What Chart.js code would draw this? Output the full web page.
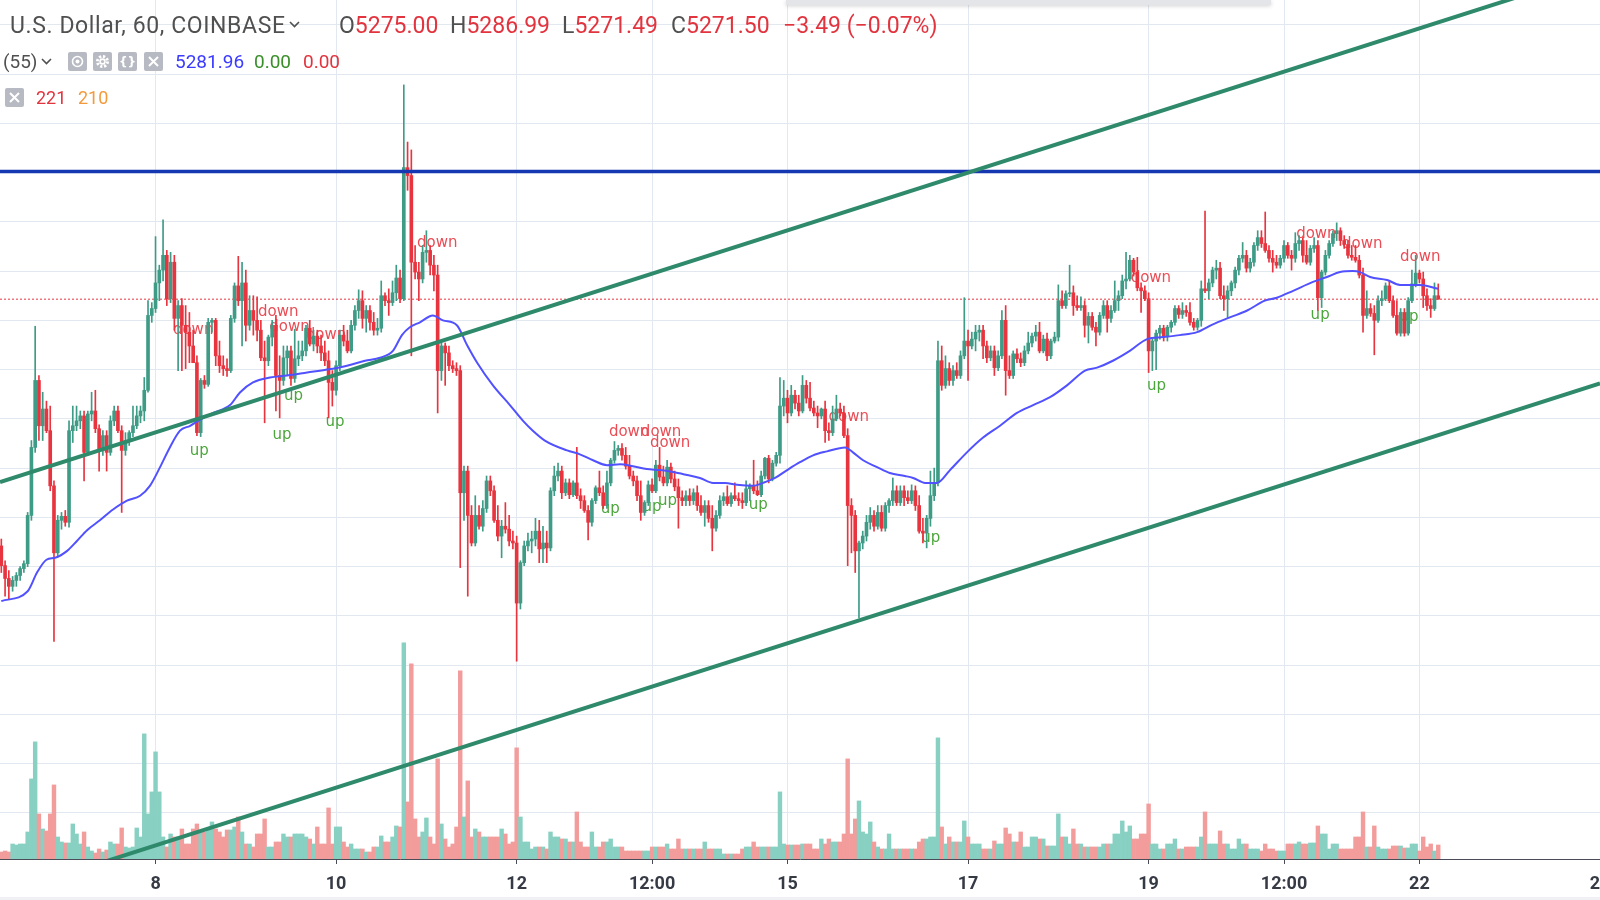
<!DOCTYPE html>
<html>
<head>
<meta charset="utf-8">
<title>U.S. Dollar, 60, COINBASE</title>
<script src="https://cdn.jsdelivr.net/npm/chart.js@4.4.1/dist/chart.umd.min.js"></script>
<style>
  html, body { margin: 0; padding: 0; background: #fff; }
  #wrap { position: relative; width: 1600px; height: 900px; overflow: hidden; }
  #chart { position: absolute; left: 0; top: 0; }
  .t { position: absolute; white-space: nowrap; line-height: 1; font-family: Roboto, "Liberation Sans", sans-serif; }
  .r1 { font-size: 23px; top: 14px; color: #505050; }
  .r2 { font-size: 19px; top: 52px; color: #505050; }
  .r3 { font-size: 18px; top: 89px; }
  .red { color: #e2343e; }
  .btn { position: absolute; width: 19px; height: 19px; background: #b7bac3; border-radius: 2px; }
  .ic { position: absolute; }
</style>
</head>
<body>
<div id="wrap">
  <canvas id="chart" width="1600" height="900"></canvas>

  <div class="t r1" style="left:10px;letter-spacing:0.6px">U.S. Dollar, 60, COINBASE</div>
  <svg class="ic" style="left:289px;top:21px" width="11" height="7"><polyline points="1,1 5.5,5.5 10,1" fill="none" stroke="#505050" stroke-width="1.6"/></svg>
  <div class="t r1" style="left:339px">O<span class="red">5275.00</span></div>
  <div class="t r1" style="left:450px">H<span class="red">5286.99</span></div>
  <div class="t r1" style="left:562px">L<span class="red">5271.49</span></div>
  <div class="t r1" style="left:671px">C<span class="red">5271.50</span></div>
  <div class="t r1 red" style="left:783px">−3.49 (−0.07%)</div>

  <div class="t r2" style="left:3px">(55)</div>
  <svg class="ic" style="left:41px;top:58px" width="11" height="7"><polyline points="1,1 5.5,5.5 10,1" fill="none" stroke="#505050" stroke-width="1.6"/></svg>
  <div class="btn" style="left:68px;top:52px"><svg width="19" height="19"><circle cx="9.5" cy="9.5" r="5" fill="none" stroke="#fff" stroke-width="1.6"/><circle cx="9.5" cy="9.5" r="2" fill="#fff"/></svg></div>
  <div class="btn" style="left:93px;top:52px"><svg width="19" height="19"><circle cx="9.5" cy="9.5" r="5" fill="none" stroke="#fff" stroke-width="3" stroke-dasharray="2.2 1.7"/><circle cx="9.5" cy="9.5" r="3.2" fill="#fff"/><circle cx="9.5" cy="9.5" r="1.6" fill="#b7bac3"/></svg></div>
  <div class="btn" style="left:118px;top:52px"><svg width="19" height="19"><text x="9.5" y="14" text-anchor="middle" font-family="DejaVu Sans" font-weight="bold" font-size="12" fill="#fff">{}</text></svg></div>
  <div class="btn" style="left:144px;top:52px"><svg width="19" height="19"><path d="M5 5 L14 14 M14 5 L5 14" stroke="#fff" stroke-width="2"/></svg></div>
  <div class="t r2" style="left:175px;color:#3b3bff">5281.96</div>
  <div class="t r2" style="left:254px;color:#3a8f2a">0.00</div>
  <div class="t r2 red" style="left:303px">0.00</div>

  <div class="btn" style="left:5px;top:88px"><svg width="19" height="19"><path d="M5 5 L14 14 M14 5 L5 14" stroke="#fff" stroke-width="2"/></svg></div>
  <div class="t r3 red" style="left:36px">221</div>
  <div class="t r3" style="left:78px;color:#f39a3d">210</div>

  <div style="position:absolute;left:786px;top:0;width:485px;height:5px;background:#e4e5e8;box-shadow:0 1px 4px rgba(0,0,0,0.18)"></div>
  <div style="position:absolute;left:0;top:897px;width:1600px;height:3px;background:#f0f1f4"></div>
</div>

<script>
// hourly candles, hour 0 = 8 Apr 00:00, first candle 6 Apr 07:00
const firstHour = -41;

const open = [
  5021, 5001, 4988, 4980, 4986, 4991, 4998, 5003, 5052, 5121,
  5189, 5143, 5160, 5138, 5082, 5014, 5047, 5051, 5045, 5138,
  5143, 5148, 5153, 5116, 5155, 5158, 5140, 5118, 5133, 5116,
  5148, 5158, 5138, 5118, 5128, 5136, 5143, 5153, 5158, 5179,
  5255, 5262, 5288, 5301, 5316, 5272, 5309, 5252, 5265, 5245,
  5238, 5224, 5207, 5136, 5189, 5185, 5248, 5250, 5214, 5204,
  5201, 5199, 5252, 5285, 5270, 5288, 5245, 5260, 5250, 5240,
  5212, 5209, 5233, 5245, 5194, 5189, 5212, 5219, 5191, 5211,
  5214, 5219, 5242, 5226, 5234, 5224, 5217, 5209, 5187, 5179,
  5204, 5235, 5229, 5219, 5245, 5260, 5270, 5252, 5260, 5248,
  5240, 5242, 5275, 5270, 5268, 5278, 5293, 5272, 5405, 5397,
  5309, 5299, 5292, 5319, 5321, 5306, 5296, 5199, 5224, 5217,
  5204, 5201, 5199, 5075, 5097, 5052, 5024, 5052, 5041, 5059,
  5087, 5077, 5047, 5031, 5041, 5038, 5026, 5024, 4963, 5004,
  5021, 5026, 5028, 5036, 5018, 5024, 5019, 5077, 5092, 5097,
  5075, 5085, 5073, 5085, 5072, 5067, 5057, 5045, 5067, 5080,
  5075, 5062, 5085, 5108, 5118, 5120, 5113, 5102, 5092, 5087,
  5072, 5055, 5065, 5083, 5077, 5103, 5091, 5085, 5101, 5089,
  5081, 5070, 5067, 5072, 5067, 5075, 5062, 5055, 5062, 5049,
  5039, 5052, 5067, 5071, 5064, 5072, 5069, 5067, 5065, 5079,
  5082, 5077, 5073, 5092, 5110, 5089, 5105, 5113, 5163, 5171,
  5156, 5174, 5166, 5158, 5184, 5171, 5161, 5156, 5153, 5160,
  5138, 5136, 5150, 5160, 5156, 5133, 5062, 5052, 5016, 5024,
  5031, 5045, 5052, 5041, 5055, 5039, 5062, 5067, 5077, 5065,
  5077, 5070, 5067, 5077, 5062, 5036, 5034, 5049, 5072, 5085,
  5209, 5184, 5201, 5189, 5199, 5194, 5214, 5229, 5224, 5231,
  5238, 5240, 5224, 5212, 5219, 5202, 5214, 5250, 5199, 5194,
  5216, 5211, 5207, 5219, 5227, 5234, 5238, 5219, 5231, 5214,
  5229, 5233, 5270, 5265, 5277, 5278, 5265, 5263, 5265, 5245,
  5254, 5243, 5238, 5255, 5265, 5252, 5260, 5270, 5275, 5290,
  5292, 5311, 5299, 5283, 5280, 5272, 5219, 5229, 5237, 5242,
  5234, 5243, 5248, 5262, 5256, 5260, 5258, 5248, 5243, 5250,
  5282, 5280, 5288, 5301, 5303, 5275, 5272, 5280, 5288, 5301,
  5313, 5316, 5303, 5309, 5326, 5334, 5328, 5321, 5313, 5309,
  5306, 5313, 5326, 5316, 5313, 5328, 5331, 5316, 5309, 5323,
  5326, 5273, 5299, 5316, 5328, 5338, 5341, 5331, 5327, 5316,
  5314, 5311, 5296, 5255, 5262, 5257, 5250, 5270, 5272, 5285,
  5270, 5255, 5237, 5258, 5237, 5270, 5287, 5298, 5292, 5275,
  5265, 5262, 5275
];

const high = [
  5028, 5006, 4996, 4990, 4994, 5000, 5006, 5055, 5128, 5244,
  5194, 5177, 5168, 5163, 5087, 5052, 5055, 5057, 5148, 5163,
  5163, 5158, 5158, 5158, 5177, 5179, 5144, 5138, 5138, 5153,
  5163, 5163, 5143, 5136, 5138, 5163, 5163, 5163, 5192, 5270,
  5268, 5335, 5306, 5352, 5321, 5319, 5316, 5270, 5272, 5265,
  5258, 5240, 5214, 5191, 5194, 5252, 5252, 5252, 5229, 5214,
  5211, 5255, 5288, 5315, 5309, 5301, 5275, 5275, 5274, 5250,
  5229, 5235, 5250, 5255, 5214, 5224, 5224, 5224, 5241, 5229,
  5229, 5245, 5250, 5240, 5240, 5235, 5229, 5219, 5199, 5209,
  5240, 5245, 5240, 5250, 5265, 5281, 5280, 5265, 5265, 5258,
  5252, 5290, 5278, 5282, 5290, 5306, 5301, 5489, 5431, 5423,
  5326, 5309, 5326, 5341, 5326, 5316, 5306, 5229, 5227, 5224,
  5209, 5207, 5204, 5102, 5102, 5062, 5072, 5062, 5067, 5092,
  5092, 5082, 5062, 5047, 5065, 5052, 5036, 5031, 5006, 5026,
  5034, 5036, 5049, 5047, 5041, 5036, 5080, 5102, 5105, 5102,
  5089, 5089, 5087, 5121, 5079, 5072, 5062, 5069, 5082, 5097,
  5082, 5097, 5110, 5127, 5123, 5125, 5121, 5113, 5097, 5092,
  5087, 5067, 5087, 5089, 5108, 5121, 5102, 5108, 5105, 5097,
  5089, 5077, 5077, 5079, 5079, 5082, 5072, 5067, 5067, 5062,
  5057, 5072, 5075, 5082, 5075, 5085, 5075, 5075, 5087, 5084,
  5108, 5087, 5097, 5111, 5113, 5108, 5116, 5192, 5189, 5179,
  5184, 5179, 5174, 5194, 5189, 5187, 5168, 5163, 5161, 5168,
  5146, 5163, 5174, 5166, 5163, 5140, 5069, 5057, 5026, 5036,
  5052, 5060, 5057, 5062, 5062, 5065, 5069, 5090, 5082, 5082,
  5082, 5077, 5083, 5082, 5072, 5049, 5052, 5097, 5100, 5229,
  5224, 5214, 5207, 5204, 5207, 5219, 5273, 5240, 5238, 5245,
  5245, 5245, 5229, 5224, 5224, 5219, 5260, 5265, 5214, 5219,
  5221, 5217, 5224, 5238, 5237, 5245, 5248, 5235, 5237, 5231,
  5238, 5286, 5280, 5280, 5306, 5285, 5275, 5274, 5270, 5258,
  5258, 5248, 5258, 5270, 5270, 5265, 5290, 5280, 5296, 5319,
  5316, 5313, 5314, 5288, 5285, 5278, 5231, 5240, 5245, 5245,
  5245, 5250, 5265, 5265, 5268, 5265, 5268, 5252, 5252, 5290,
  5361, 5292, 5304, 5311, 5309, 5285, 5285, 5290, 5304, 5316,
  5329, 5321, 5313, 5329, 5341, 5341, 5360, 5326, 5321, 5316,
  5316, 5331, 5329, 5321, 5339, 5336, 5334, 5331, 5326, 5334,
  5331, 5301, 5321, 5331, 5341, 5349, 5344, 5336, 5331, 5326,
  5326, 5316, 5303, 5280, 5267, 5265, 5275, 5280, 5288, 5290,
  5275, 5270, 5262, 5262, 5273, 5301, 5316, 5301, 5299, 5282,
  5272, 5288, 5286.99
];

const low = [
  4994, 4970, 4967, 4975, 4980, 4986, 4994, 5000, 5047, 5116,
  5128, 5128, 5136, 5077, 4924, 5011, 5038, 5041, 5040, 5126,
  5138, 5140, 5087, 5113, 5148, 5136, 5097, 5113, 5097, 5113,
  5143, 5136, 5055, 5113, 5123, 5132, 5140, 5146, 5148, 5177,
  5248, 5258, 5270, 5290, 5265, 5268, 5240, 5199, 5199, 5201,
  5207, 5211, 5133, 5132, 5181, 5183, 5238, 5204, 5197, 5194,
  5193, 5197, 5248, 5265, 5224, 5229, 5240, 5235, 5229, 5209,
  5146, 5204, 5224, 5158, 5151, 5184, 5194, 5184, 5187, 5204,
  5209, 5214, 5224, 5219, 5217, 5209, 5204, 5151, 5163, 5174,
  5199, 5224, 5217, 5217, 5240, 5252, 5242, 5238, 5240, 5235,
  5235, 5238, 5265, 5255, 5265, 5270, 5268, 5270, 5382, 5214,
  5292, 5270, 5288, 5309, 5296, 5280, 5156, 5189, 5184, 5199,
  5197, 5194, 4999, 5047, 4970, 5021, 5021, 5038, 5036, 5055,
  5072, 5045, 5026, 5009, 5034, 5021, 5018, 4904, 4957, 5001,
  5016, 5014, 5021, 5004, 5004, 5004, 5016, 5072, 5087, 5069,
  5072, 5069, 5071, 5069, 5059, 5055, 5027, 5041, 5064, 5072,
  5059, 5059, 5082, 5105, 5113, 5108, 5099, 5089, 5082, 5067,
  5047, 5052, 5062, 5075, 5075, 5087, 5082, 5082, 5085, 5077,
  5039, 5062, 5062, 5062, 5063, 5057, 5052, 5041, 5045, 5016,
  5036, 5049, 5062, 5062, 5061, 5067, 5062, 5059, 5062, 5067,
  5074, 5072, 5071, 5089, 5085, 5087, 5102, 5105, 5153, 5146,
  5153, 5160, 5153, 5156, 5166, 5158, 5153, 5141, 5150, 5126,
  5128, 5133, 5148, 5153, 5131, 5001, 5014, 4994, 4948, 5018,
  5026, 5038, 5036, 5038, 5036, 5036, 5055, 5062, 5062, 5062,
  5062, 5064, 5064, 5057, 5034, 5024, 5019, 5041, 5067, 5082,
  5179, 5181, 5184, 5184, 5191, 5191, 5211, 5189, 5221, 5219,
  5229, 5211, 5207, 5209, 5194, 5199, 5211, 5174, 5191, 5191,
  5207, 5203, 5204, 5216, 5223, 5229, 5217, 5217, 5209, 5211,
  5227, 5229, 5262, 5262, 5274, 5255, 5260, 5260, 5233, 5227,
  5240, 5224, 5235, 5252, 5238, 5248, 5258, 5260, 5272, 5282,
  5290, 5295, 5280, 5258, 5270, 5197, 5199, 5200, 5231, 5229,
  5229, 5238, 5245, 5252, 5252, 5254, 5245, 5240, 5240, 5244,
  5278, 5272, 5284, 5292, 5272, 5260, 5253, 5275, 5283, 5296,
  5309, 5299, 5299, 5305, 5321, 5324, 5319, 5309, 5299, 5303,
  5303, 5309, 5313, 5301, 5309, 5321, 5309, 5307, 5306, 5319,
  5260, 5263, 5296, 5313, 5325, 5331, 5326, 5323, 5313, 5311,
  5309, 5293, 5238, 5252, 5254, 5215, 5248, 5265, 5270, 5268,
  5253, 5235, 5234, 5234, 5235, 5268, 5284, 5288, 5263, 5260,
  5253, 5260, 5271.49
];

const close = [
  5001, 4988, 4980, 4986, 4991, 4998, 5003, 5052, 5121, 5189,
  5143, 5160, 5138, 5082, 5014, 5047, 5051, 5045, 5138, 5143,
  5148, 5153, 5116, 5155, 5158, 5140, 5118, 5133, 5116, 5148,
  5158, 5138, 5118, 5128, 5136, 5143, 5153, 5158, 5179, 5255,
  5262, 5288, 5301, 5316, 5272, 5309, 5252, 5265, 5245, 5238,
  5224, 5207, 5136, 5189, 5185, 5248, 5250, 5214, 5204, 5201,
  5199, 5252, 5285, 5270, 5288, 5245, 5260, 5250, 5240, 5212,
  5209, 5233, 5245, 5194, 5189, 5212, 5219, 5191, 5211, 5214,
  5219, 5242, 5226, 5234, 5224, 5217, 5209, 5187, 5179, 5204,
  5235, 5229, 5219, 5245, 5260, 5270, 5252, 5260, 5248, 5240,
  5242, 5275, 5270, 5268, 5278, 5293, 5272, 5405, 5397, 5309,
  5299, 5292, 5319, 5321, 5306, 5296, 5199, 5224, 5217, 5204,
  5201, 5199, 5075, 5097, 5052, 5024, 5052, 5041, 5059, 5087,
  5077, 5047, 5031, 5041, 5038, 5026, 5024, 4963, 5004, 5021,
  5026, 5028, 5036, 5018, 5024, 5019, 5077, 5092, 5097, 5075,
  5085, 5073, 5085, 5072, 5067, 5057, 5045, 5067, 5080, 5075,
  5062, 5085, 5108, 5118, 5120, 5113, 5102, 5092, 5087, 5072,
  5055, 5065, 5083, 5077, 5103, 5091, 5085, 5101, 5089, 5081,
  5070, 5067, 5072, 5067, 5075, 5062, 5055, 5062, 5049, 5039,
  5052, 5067, 5071, 5064, 5072, 5069, 5067, 5065, 5079, 5082,
  5077, 5073, 5092, 5110, 5089, 5105, 5113, 5163, 5171, 5156,
  5174, 5166, 5158, 5184, 5171, 5161, 5156, 5153, 5160, 5138,
  5136, 5150, 5160, 5156, 5133, 5062, 5052, 5016, 5024, 5031,
  5045, 5052, 5041, 5055, 5039, 5062, 5067, 5077, 5065, 5077,
  5070, 5067, 5077, 5062, 5036, 5034, 5049, 5072, 5085, 5209,
  5184, 5201, 5189, 5199, 5194, 5214, 5229, 5224, 5231, 5238,
  5240, 5224, 5212, 5219, 5202, 5214, 5250, 5199, 5194, 5216,
  5211, 5207, 5219, 5227, 5234, 5238, 5219, 5231, 5214, 5229,
  5233, 5270, 5265, 5277, 5278, 5265, 5263, 5265, 5245, 5254,
  5243, 5238, 5255, 5265, 5252, 5260, 5270, 5275, 5290, 5292,
  5311, 5299, 5283, 5280, 5272, 5219, 5229, 5237, 5242, 5234,
  5243, 5248, 5262, 5256, 5260, 5258, 5248, 5243, 5250, 5282,
  5280, 5288, 5301, 5303, 5275, 5272, 5280, 5288, 5301, 5313,
  5316, 5303, 5309, 5326, 5334, 5328, 5321, 5313, 5309, 5306,
  5313, 5326, 5316, 5313, 5328, 5331, 5316, 5309, 5323, 5326,
  5273, 5299, 5316, 5328, 5338, 5341, 5331, 5327, 5316, 5314,
  5311, 5296, 5255, 5262, 5257, 5250, 5270, 5272, 5285, 5270,
  5255, 5237, 5258, 5237, 5270, 5287, 5298, 5292, 5275, 5265,
  5262, 5275, 5271.5
];

const volume = [
  70, 80, 70, 150, 140, 150, 150, 270, 800, 1170,
  450, 300, 280, 450, 740, 220, 170, 160, 160, 350,
  250, 150, 270, 120, 80, 60, 100, 70, 90, 170,
  150, 150, 310, 120, 110, 120, 310, 220, 1250, 450,
  670, 1070, 670, 220, 120, 250, 220, 220, 300, 150,
  150, 300, 350, 270, 270, 300, 370, 300, 270, 220,
  290, 290, 320, 420, 270, 150, 150, 120, 250, 250,
  400, 120, 120, 170, 170, 250, 220, 220, 250, 250,
  250, 220, 200, 150, 320, 150, 150, 510, 150, 320,
  320, 170, 120, 150, 100, 100, 100, 70, 70, 120,
  120, 230, 170, 170, 220, 330, 320, 2160, 570, 1950,
  400, 220, 270, 410, 220, 150, 1000, 350, 200, 120,
  150, 320, 1880, 420, 780, 220, 300, 270, 220, 220,
  220, 220, 220, 300, 250, 150, 170, 1110, 420, 170,
  170, 100, 120, 120, 120, 100, 270, 220, 220, 200,
  200, 170, 170, 470, 170, 120, 120, 270, 120, 120,
  170, 170, 200, 120, 120, 120, 80, 80, 80, 80,
  80, 80, 80, 120, 120, 120, 120, 150, 100, 100,
  200, 100, 100, 100, 100, 100, 100, 170, 100, 100,
  100, 100, 50, 50, 50, 50, 50, 100, 120, 120,
  170, 120, 120, 120, 120, 120, 120, 670, 150, 140,
  140, 140, 140, 150, 150, 150, 100, 100, 200, 150,
  200, 170, 170, 170, 250, 1000, 250, 400, 580, 270,
  250, 370, 170, 120, 100, 100, 250, 100, 100, 100,
  100, 100, 100, 100, 170, 200, 200, 220, 220, 1210,
  320, 150, 220, 170, 170, 170, 380, 220, 150, 150,
  150, 100, 100, 100, 180, 150, 150, 310, 250, 170,
  170, 270, 120, 120, 220, 220, 200, 200, 130, 130,
  130, 450, 220, 220, 150, 300, 150, 150, 120, 120,
  120, 120, 120, 150, 150, 150, 250, 250, 380, 270,
  330, 200, 200, 250, 250, 550, 150, 150, 100, 100,
  150, 150, 200, 100, 100, 120, 120, 120, 120, 220,
  470, 150, 150, 150, 280, 150, 150, 100, 100, 200,
  150, 150, 100, 100, 100, 80, 150, 100, 100, 80,
  80, 80, 150, 150, 150, 170, 150, 150, 160, 160,
  330, 250, 250, 100, 150, 150, 100, 100, 100, 100,
  220, 220, 470, 120, 120, 330, 120, 100, 100, 100,
  130, 130, 130, 110, 110, 150, 150, 80, 220, 120,
  150, 80, 140
];

// moving average (55)
const maHours = [
  -41, -34, -31.5, -29, -26.7, -23.5, -20.9, -18.2, -14.8, -11.3,
  -7.6, -4.1, -1.5, 1.2, 3.8, 6.5, 9.2, 11.8, 15.3, 19.8,
  22.5, 25.9, 30.4, 35, 40.3, 45.6, 50.9, 55.7, 59.7, 63.1,
  65.5, 67.6, 70.3, 73.7, 76.4, 80.1, 82.8, 85.5, 89.7, 94.2,
  97.7, 100.3, 103.5, 109.4, 112.8, 116.3, 120, 123.5, 126.9, 130.6,
  134.1, 137.6, 141.3, 144.7, 148.2, 151.4, 154.6, 158.8, 161.5, 164.7,
  167.9, 171.3, 174.8, 178.5, 183.3, 185.4, 188.1, 191.8, 195.2, 199.2,
  201.4, 204.6, 207.7, 211.2, 215.7, 220, 224.5, 229, 233.3, 237.8,
  242.3, 247.1, 250.3, 254.5, 259, 263.6, 267.8, 272.3, 276.9, 281.1,
  285.6, 290.2, 294.9, 298.1, 302.4, 307.7, 311.4, 314.9, 318.3, 320.2,
  322.9, 327.4, 330.8, 336.1, 341
];
const maValues = [
  4965, 4975, 4994, 5007, 5009, 5016, 5026, 5037, 5047, 5058,
  5067, 5072, 5082, 5101, 5121, 5138, 5143, 5149, 5156, 5164,
  5177, 5187, 5192, 5194, 5197, 5200, 5204, 5209, 5212, 5219,
  5235, 5243, 5248, 5255, 5250, 5245, 5225, 5207, 5184, 5164,
  5148, 5138, 5128, 5118, 5114, 5108, 5103, 5104, 5102, 5099,
  5098, 5096, 5093, 5090, 5085, 5085, 5083, 5082, 5085, 5090,
  5098, 5106, 5113, 5117, 5121, 5116, 5108, 5101, 5095, 5092,
  5090, 5085, 5085, 5098, 5116, 5131, 5143, 5156, 5164, 5172,
  5184, 5199, 5202, 5209, 5219, 5231, 5233, 5235, 5238, 5246,
  5253, 5260, 5270, 5273, 5280, 5289, 5294, 5299, 5300, 5299,
  5294, 5291, 5286, 5286, 5282
];

// signal labels
const downHours = [10, 32.6, 35.6, 45.3, 74.9, 125.9, 134.4, 136.8, 184.3, 264.6, 308.6, 320.8, 336.2];
const downPrices = [5240, 5258, 5243, 5235, 5328, 5137, 5137, 5125, 5152, 5293, 5338, 5327, 5314];
const upHours = [11.6, 33.6, 36.7, 47.7, 120.9, 132, 136.1, 160.2, 206.1, 266.1, 309.6, 333.2];
const upPrices = [5117, 5134, 5173, 5147, 5058, 5060, 5067, 5062, 5029, 5183, 5255, 5253];

// drawings
const resistance = 5401;
const lastPrice = 5271.5;
const channelHours = [-41.35, 384];
const channelUpper = [5085.8, 5605];
const channelLower = [4666.5, 5185.9];

// axis
const tickHours = [0, 48, 96, 132, 168, 216, 264, 300, 336, 384];
const tickLabels = ['8', '10', '12', '12:00', '15', '17', '19', '12:00', '22', '24'];
const gridPrices = [4750, 4800, 4850, 4900, 4950, 5000, 5050, 5100, 5150, 5200, 5250, 5300, 5350, 5400, 5450, 5500, 5550];

const hours = open.map((_, i) => firstHour + i);

const UP = '#3e9b86';
const DOWN = '#e8343f';
const VOL_UP = '#87d0c2';
const VOL_DOWN = '#f29c9c';
const GRID = '#e1e8ef';

const isUp = i => close[i] >= open[i];

const wicks = hours.map((h, i) => ({
	x: h,
	y: [Math.min(low[i], open[i], close[i]), Math.max(high[i], open[i], close[i])]
}));
const bodies = hours.map((h, i) => ({ x: h, y: [open[i], close[i]] }));
const vols = hours.map((h, i) => ({ x: h, y: volume[i] }));
const ma = maHours.map((h, i) => ({ x: h, y: maValues[i] }));

// up / down text, drawn under the candles
const signalLabels = {
	id: 'signalLabels',
	beforeDatasetsDraw(chart) {
		const { ctx, scales: { x, y } } = chart;
		ctx.save();
		ctx.font = '15px "DejaVu Sans"';
		ctx.textAlign = 'center';
		ctx.textBaseline = 'middle';
		ctx.fillStyle = '#ea4d56';
		downHours.forEach((h, i) => ctx.fillText('down', x.getPixelForValue(h), y.getPixelForValue(downPrices[i])));
		ctx.fillStyle = '#4ca63c';
		upHours.forEach((h, i) => ctx.fillText('up', x.getPixelForValue(h), y.getPixelForValue(upPrices[i])));
		ctx.restore();
	}
};

const barCommon = { grouped: false, barPercentage: 1, categoryPercentage: 1, borderWidth: 0 };

const config = {
	type: 'bar',
	data: {
		datasets: [
			{
				type: 'line', label: 'channel top', order: 0,
				data: channelHours.map((h, i) => ({ x: h, y: channelUpper[i] })),
				borderColor: '#2f8a6c', borderWidth: 4, pointRadius: 0
			},
			{
				type: 'line', label: 'channel bottom', order: 0,
				data: channelHours.map((h, i) => ({ x: h, y: channelLower[i] })),
				borderColor: '#2f8a6c', borderWidth: 4, pointRadius: 0
			},
			{
				type: 'line', label: 'resistance', order: 0,
				data: channelHours.map(h => ({ x: h, y: resistance })),
				borderColor: '#1537b2', borderWidth: 3.5, pointRadius: 0
			},
			{
				type: 'line', label: 'MA 55', order: 1,
				data: ma,
				borderColor: '#5151ff', borderWidth: 2, pointRadius: 0,
				cubicInterpolationMode: 'monotone'
			},
			{
				label: 'bodies', order: 2, ...barCommon,
				data: bodies,
				maxBarThickness: 3,
				minBarLength: 1,
				backgroundColor: ctx => isUp(ctx.dataIndex) ? UP : DOWN
			},
			{
				label: 'wicks', order: 3, ...barCommon,
				data: wicks,
				maxBarThickness: 1,
				backgroundColor: ctx => isUp(ctx.dataIndex) ? UP : DOWN
			},
			{
				type: 'line', label: 'last price', order: 4,
				data: channelHours.map(h => ({ x: h, y: lastPrice })),
				borderColor: '#e8343f', borderWidth: 1, borderDash: [2, 2], pointRadius: 0
			},
			{
				label: 'volume', order: 5, ...barCommon,
				yAxisID: 'vol',
				data: vols,
				backgroundColor: ctx => isUp(ctx.dataIndex) ? VOL_UP : VOL_DOWN
			}
		]
	},
	options: {
		responsive: false,
		animation: false,
		events: [],
		layout: { padding: 0 },
		plugins: { legend: { display: false }, tooltip: { enabled: false }, title: { display: false } },
		scales: {
			x: {
				type: 'linear',
				min: -41.35,
				max: 384,
				offset: false,
				grid: { color: GRID, offset: false, drawTicks: true, tickLength: 5, tickColor: '#4a4d57' },
				border: { display: true, color: '#4a4d57', width: 1 },
				ticks: {
					autoSkip: false, maxRotation: 0, padding: 10,
					color: '#363a45',
					font: { family: 'Roboto', size: 18, weight: 'bold' },
					callback: (v, i) => tickLabels[i]
				},
				afterBuildTicks: s => { s.ticks = tickHours.map(v => ({ value: v })); },
				afterFit: s => { s.height = 41; s.paddingLeft = 0; s.paddingRight = 0; }
			},
			y: {
				type: 'linear',
				position: 'left',
				min: 4703.2,
				max: 5575.2,
				grid: { color: GRID, drawTicks: false },
				border: { display: false },
				ticks: { display: false },
				afterBuildTicks: s => { s.ticks = gridPrices.map(v => ({ value: v })); },
				afterFit: s => { s.width = 0; s.paddingTop = 0; s.paddingBottom = 0; }
			},
			vol: {
				type: 'linear',
				display: false,
				min: 0,
				max: 8580
			}
		}
	},
	plugins: [signalLabels]
};

const myChart = new Chart(document.getElementById('chart'), config);
</script>
</body>
</html>
